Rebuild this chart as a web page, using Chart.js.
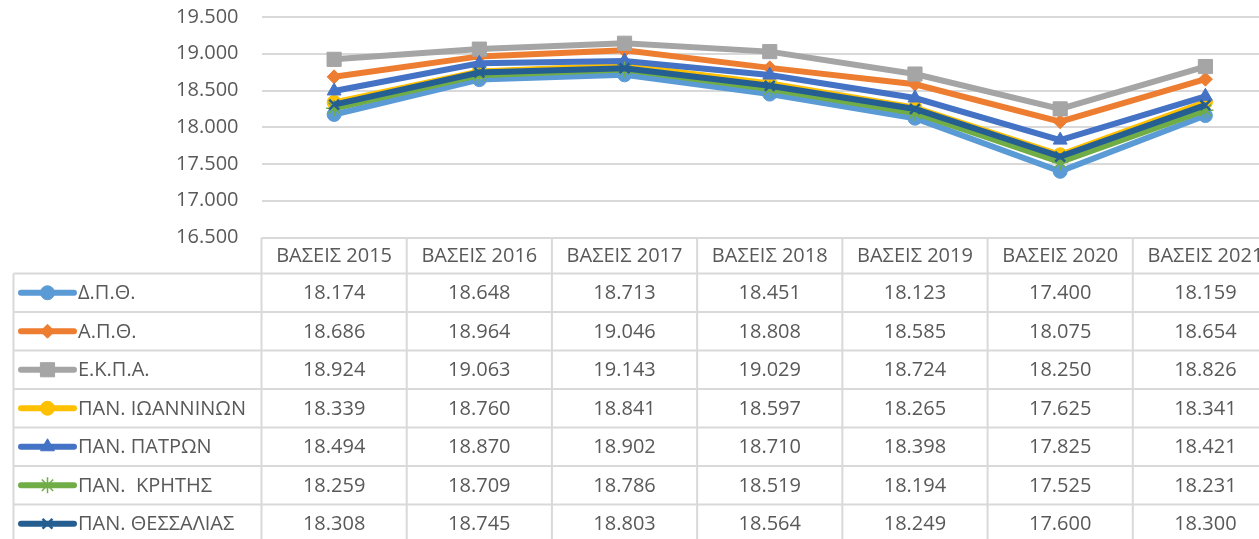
<!DOCTYPE html>
<html>
<head>
<meta charset="utf-8">
<script src="https://cdn.jsdelivr.net/npm/chart.js@4.4.0/dist/chart.umd.min.js"></script>
<style>
html, body { margin: 0; padding: 0; overflow: hidden; background: #fff; }
#wrap { width: 1290px; height: 539px; }
</style>
</head>
<body>
<div id="wrap"><canvas id="basesChart" width="1290" height="539"></canvas></div>
<script>
// data (βάσεις x1000)
const years = ['ΒΑΣΕΙΣ 2015', 'ΒΑΣΕΙΣ 2016', 'ΒΑΣΕΙΣ 2017', 'ΒΑΣΕΙΣ 2018', 'ΒΑΣΕΙΣ 2019', 'ΒΑΣΕΙΣ 2020', 'ΒΑΣΕΙΣ 2021'];
const universities = ['Δ.Π.Θ.', 'Α.Π.Θ.', 'Ε.Κ.Π.Α.', 'ΠΑΝ. ΙΩΑΝΝΙΝΩΝ', 'ΠΑΝ. ΠΑΤΡΩΝ', 'ΠΑΝ.  ΚΡΗΤΗΣ', 'ΠΑΝ. ΘΕΣΣΑΛΙΑΣ'];
const dpth       = [18174, 18648, 18713, 18451, 18123, 17400, 18159];
const apth       = [18686, 18964, 19046, 18808, 18585, 18075, 18654];
const ekpa       = [18924, 19063, 19143, 19029, 18724, 18250, 18826];
const ioanninon  = [18339, 18760, 18841, 18597, 18265, 17625, 18341];
const patron     = [18494, 18870, 18902, 18710, 18398, 17825, 18421];
const kritis     = [18259, 18709, 18786, 18519, 18194, 17525, 18231];
const thessalias = [18308, 18745, 18803, 18564, 18249, 17600, 18300];
const yTicks = [16500, 17000, 17500, 18000, 18500, 19000, 19500];

const series = [dpth, apth, ekpa, ioanninon, patron, kritis, thessalias];
const colors = ['#5B9BD5', '#ED7D31', '#A5A5A5', '#FFC000', '#4472C4', '#70AD47', '#255E91'];
const markers = ['circle', 'rectRot', 'rect', 'circle', 'triangle', 'star', 'crossRot'];
const markerSize = [7, 7, 10, 7, 8, 8, 7];
const markerLine = [1, 1, 1, 1, 1, 1.5, 2.5];

const FONT = '"Open Sans", "Noto Sans", sans-serif';
const TEXT = '#595959';
const GRID = '#d9d9d9';

// 18174 -> "18.174"
function fmt(n) {
  return Math.floor(n / 1000) + '.' + String(n % 1000).padStart(3, '0');
}

function drawMarker(ctx, i, x, y) {
  ctx.fillStyle = colors[i];
  ctx.strokeStyle = colors[i];
  ctx.lineWidth = markerLine[i];
  Chart.helpers.drawPoint(ctx, {
    pointStyle: markers[i],
    radius: markerSize[i],
    rotation: 0,
    borderWidth: markerLine[i]
  }, x, y);
}

const tablePlugin = {
  id: 'dataTable',
  afterDraw(chart) {
    const ctx = chart.ctx;
    const xs = chart.scales.x;
    const area = chart.chartArea;
    const colW = (area.right - area.left) / years.length;
    const top = area.bottom;
    const headH = 36;
    const rowH = 38.5;
    const legLeft = 13.5;
    const W = chart.width, H = chart.height;

    ctx.save();
    ctx.strokeStyle = GRID;
    ctx.lineWidth = 2;
    ctx.beginPath();
    for (let k = 0; k <= years.length; k++) {
      const xx = area.left + k * colW;
      ctx.moveTo(xx, top);
      ctx.lineTo(xx, H);
    }
    ctx.moveTo(legLeft, top + headH);
    ctx.lineTo(legLeft, H);
    for (let r = 0; r <= series.length; r++) {
      const yy = top + headH + r * rowH;
      ctx.moveTo(legLeft, yy);
      ctx.lineTo(W, yy);
    }
    ctx.stroke();

    ctx.font = '20px ' + FONT;
    ctx.fillStyle = TEXT;
    ctx.textBaseline = 'middle';
    ctx.textAlign = 'center';
    years.forEach((y, j) => {
      ctx.fillText(y, xs.getPixelForValue(j), top + headH / 2 + 1);
    });

    series.forEach((vals, i) => {
      const cy = top + headH + i * rowH + rowH / 2;
      // legend key
      ctx.strokeStyle = colors[i];
      ctx.lineWidth = 6;
      ctx.lineCap = 'round';
      ctx.beginPath();
      ctx.moveTo(21, cy);
      ctx.lineTo(74, cy);
      ctx.stroke();
      ctx.lineCap = 'butt';
      drawMarker(ctx, i, 47.5, cy);

      ctx.font = '20px ' + FONT;
      ctx.fillStyle = TEXT;
      ctx.textAlign = 'left';
      ctx.fillText(universities[i], 78, cy + 1);
      ctx.textAlign = 'center';
      vals.forEach((v, j) => {
        ctx.fillText(fmt(v), xs.getPixelForValue(j), cy + 1);
      });
    });
    ctx.restore();
  }
};

const ctx = document.getElementById('basesChart').getContext('2d');
const basesChart = new Chart(ctx, {
  type: 'line',
  data: {
    labels: years,
    datasets: series.map((vals, i) => ({
      label: universities[i],
      data: vals,
      borderColor: colors[i],
      backgroundColor: colors[i],
      borderWidth: 6,
      tension: 0,
      pointStyle: markers[i],
      pointRadius: markerSize[i],
      pointBorderWidth: markerLine[i],
      pointBorderColor: colors[i],
      pointBackgroundColor: colors[i],
      order: 10 - i   // later series on top, like excel
    }))
  },
  options: {
    responsive: false,
    animation: false,
    devicePixelRatio: 1,
    layout: { padding: { top: 17, right: 12, bottom: 301.5, left: 0 } },
    plugins: { legend: { display: false }, tooltip: { enabled: false } },
    scales: {
      x: { display: false, offset: true },
      y: {
        min: yTicks[0],
        max: yTicks[yTicks.length - 1],
        afterBuildTicks: (scale) => { scale.ticks = yTicks.map(v => ({ value: v })); },
        afterFit: (scale) => { scale.width = 261.5; },
        border: { display: false },
        // invisible tick marks give the gap between labels and plot
        grid: { color: GRID, lineWidth: 2, drawTicks: true, tickLength: 23, tickColor: 'rgba(0,0,0,0)' },
        ticks: {
          padding: 0,
          color: TEXT,
          font: { family: FONT, size: 20 },
          callback: (v) => fmt(v)
        }
      }
    }
  },
  plugins: [tablePlugin]
});
</script>
</body>
</html>
